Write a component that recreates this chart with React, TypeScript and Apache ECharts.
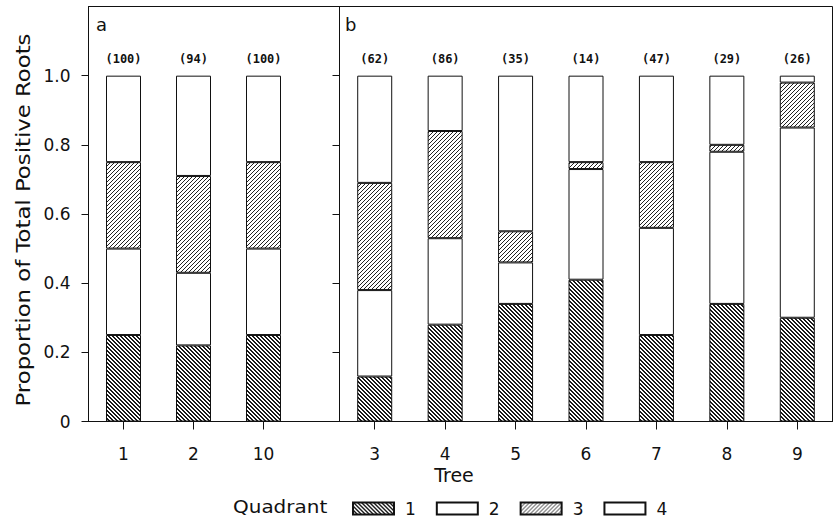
import React, { useEffect, useRef } from "react";
import * as echarts from "echarts";

// Panel a
const treesA = ["1", "2", "10"];
const countsA = [100, 94, 100];
const q1A = [0.25, 0.22, 0.25];
const q2A = [0.25, 0.21, 0.25];
const q3A = [0.25, 0.28, 0.25];
const q4A = [0.25, 0.29, 0.25];

// Panel b
const treesB = ["3", "4", "5", "6", "7", "8", "9"];
const countsB = [62, 86, 35, 14, 47, 29, 26];
const q1B = [0.13, 0.28, 0.34, 0.41, 0.25, 0.34, 0.3];
const q2B = [0.25, 0.25, 0.12, 0.32, 0.31, 0.44, 0.55];
const q3B = [0.31, 0.31, 0.09, 0.02, 0.19, 0.02, 0.13];
const q4B = [0.31, 0.16, 0.45, 0.25, 0.25, 0.2, 0.02];

const quadrants = ["1", "2", "3", "4"];
const yTicks = [0, 0.2, 0.4, 0.6, 0.8, 1.0];

const FONT = "DejaVu Sans";
const INK = "#111";

function hatch(size: number, test: (x: number, y: number) => boolean, color: string) {
  const c = document.createElement("canvas");
  c.width = size;
  c.height = size;
  const ctx = c.getContext("2d")!;
  ctx.fillStyle = "#fff";
  ctx.fillRect(0, 0, size, size);
  ctx.fillStyle = color;
  for (let x = 0; x < size; x++) for (let y = 0; y < size; y++) if (test(x, y)) ctx.fillRect(x, y, 1, 1);
  return { image: c, repeat: "repeat" } as any;
}

export default function App() {
  const ref = useRef<HTMLDivElement>(null);
  useEffect(() => {
    if (!ref.current) return;
    const chart = echarts.init(ref.current, undefined, { renderer: "svg" });

    const fills: any[] = [
      hatch(4, (x, y) => ((x - y + 8) % 4) < 2, "#1a1a1a"), // dense "\\\\"
      "#fff",
      hatch(4, (x, y) => (x + y) % 4 === 0, "#222"), // light "////"
      "#fff",
    ];

    const seriesA = [q1A, q2A, q3A, q4A];
    const seriesB = [q1B, q2B, q3B, q4B];

    const topLabel = (counts: number[]) => ({
      show: true,
      position: "top",
      distance: 11,
      formatter: (p: any) => `(${counts[p.dataIndex]})`,
      fontFamily: "DejaVu Sans Mono",
      fontWeight: "bold",
      fontSize: 12,
      color: INK,
    });

    const series: any[] = [];
    const addPanel = (vals: number[][], counts: number[], axis: number, stack: string) => {
      vals.forEach((v, k) => {
        series.push({
          name: quadrants[k],
          type: "bar",
          xAxisIndex: axis,
          yAxisIndex: axis,
          stack,
          barWidth: 35,
          data: v,
          itemStyle: { color: fills[k], borderColor: INK, borderWidth: 1 },
          label: k === 3 ? topLabel(counts) : { show: false },
          emphasis: { disabled: true },
        });
      });
    };
    addPanel(seriesA, countsA, 0, "a");
    addPanel(seriesB, countsB, 1, "b");

    const yAxisBase = (gi: number, labels: boolean): any => ({
      type: "value",
      gridIndex: gi,
      min: 0,
      max: 1.2,
      axisLine: { show: true, lineStyle: { color: INK, width: 1 } },
      axisTick: { show: true, customValues: yTicks, length: 7, lineStyle: { color: INK } },
      axisLabel: {
        show: labels,
        customValues: yTicks,
        formatter: (v: number) => (v === 0 ? "0" : v.toFixed(1)),
        margin: 18,
        fontFamily: FONT,
        fontSize: 17,
        color: INK,
      },
      splitLine: { show: false },
    });

    const catAxis = (gi: number, data: string[]): any => ({
      type: "category",
      gridIndex: gi,
      data,
      axisLine: { show: true, onZero: false, lineStyle: { color: INK } },
      axisTick: { show: true, alignWithLabel: true, length: 8, lineStyle: { color: INK } },
      axisLabel: { margin: 24, fontFamily: FONT, fontSize: 17, color: INK },
      splitLine: { show: false },
    });

    const TOP = 6.5;
    const H = 415;
    chart.setOption({
      animation: false,
      backgroundColor: "#fff",
      grid: [
        { left: 88.5, top: TOP, width: 210, height: H, show: false },
        { left: 339.5, top: TOP, width: 493, height: H, show: true, borderColor: INK, borderWidth: 1, backgroundColor: "transparent" },
        { left: 88.5, top: TOP, width: 251, height: H, show: true, borderColor: INK, borderWidth: 1, backgroundColor: "transparent" },
      ],
      xAxis: [
        catAxis(0, treesA),
        catAxis(1, treesB),
        { type: "value", gridIndex: 2, show: false, min: 0, max: 1 },
      ],
      yAxis: [
        yAxisBase(0, true),
        yAxisBase(1, false),
        { type: "value", gridIndex: 2, show: false, min: 0, max: 1 },
      ],
      legend: {
        data: quadrants,
        left: 352,
        top: 500,
        padding: 0,
        itemWidth: 41,
        itemHeight: 12,
        itemGap: 20,
        icon: "rect",
        selectedMode: false,
        textStyle: { fontFamily: FONT, fontSize: 17, color: INK, padding: [0, 0, 0, 6] },
      },
      graphic: [
        { type: "text", x: 96, y: 24, style: { text: "a", font: `18px "${FONT}"`, fill: INK, verticalAlign: "middle" } },
        { type: "text", x: 345, y: 24, style: { text: "b", font: `18px "${FONT}"`, fill: INK, verticalAlign: "middle" } },
        { type: "text", x: 454, y: 475, style: { text: "Tree", font: `19px "${FONT}"`, fill: INK, align: "center", verticalAlign: "middle" } },
        { type: "text", x: 233, y: 507, scaleX: 1.08, style: { text: "Quadrant", font: `18.5px "${FONT}"`, fill: INK, verticalAlign: "middle" } },
        {
          type: "text",
          x: 24,
          y: 220,
          rotation: Math.PI / 2,
          scaleX: 1.2,
          style: { text: "Proportion of Total Positive Roots", font: `19px "${FONT}"`, fill: INK, align: "center", verticalAlign: "middle" },
        },
      ],
      series,
    });
    return () => chart.dispose();
  }, []);
  return <div ref={ref} style={{ position: "fixed", left: 0, top: 0, width: 835, height: 522 }} />;
}
